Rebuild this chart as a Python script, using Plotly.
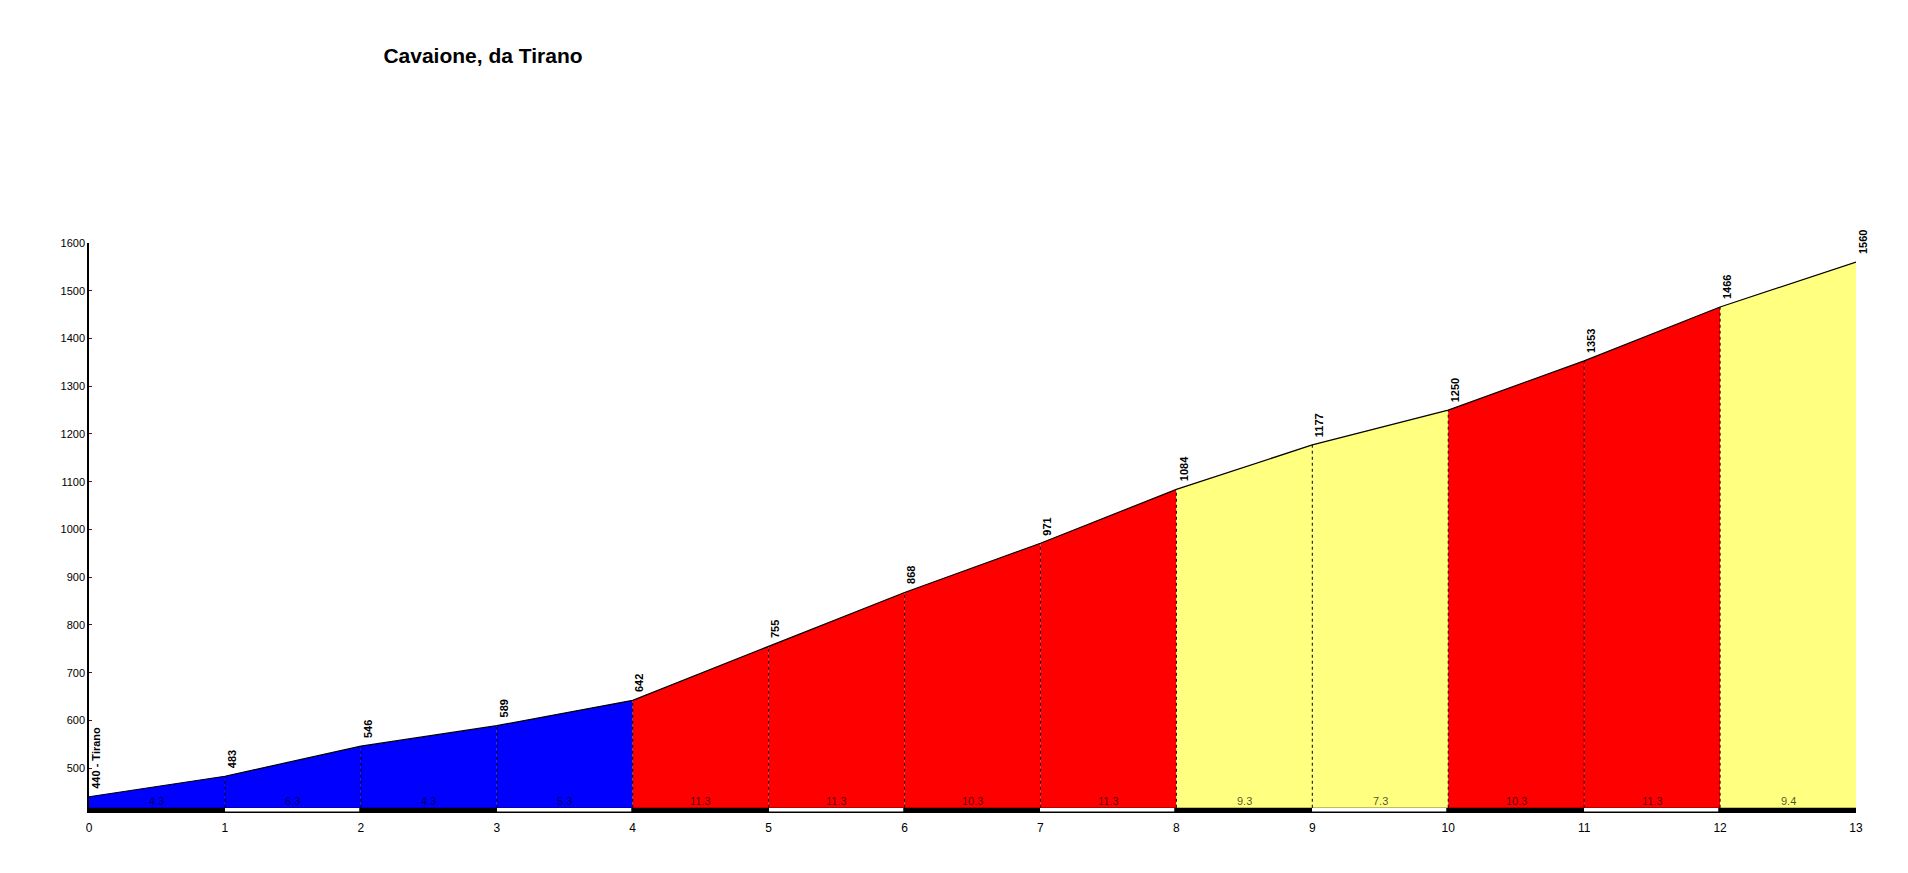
import plotly.graph_objects as go

title = "Cavaione, da Tirano"
km = [0, 1, 2, 3, 4, 5, 6, 7, 8, 9, 10, 11, 12, 13]
elevation = [440, 483, 546, 589, 642, 755, 868, 971, 1084, 1177, 1250, 1353, 1466, 1560]
start_name = "Tirano"
gradients = ["4.3", "6.3", "4.3", "5.3", "11.3", "11.3", "10.3", "11.3", "9.3", "7.3", "10.3", "11.3", "9.4"]
segment_colors = ["#0000FF", "#0000FF", "#0000FF", "#0000FF",
                  "#FF0000", "#FF0000", "#FF0000", "#FF0000",
                  "#FFFF80", "#FFFF80", "#FF0000", "#FF0000", "#FFFF80"]
y_ticks = [500, 600, 700, 800, 900, 1000, 1100, 1200, 1300, 1400, 1500, 1600]

Y_MIN = 406
BAR_H = 11
FONT = "Liberation Sans, Arial, sans-serif"
BASE = Y_MIN + BAR_H

fig = go.Figure()

# bottom km bar
mids = [(km[i] + km[i + 1]) / 2 for i in range(len(km) - 1)]
fig.add_trace(go.Bar(
    x=mids, y=[BAR_H] * len(mids), base=[Y_MIN] * len(mids), width=1,
    marker=dict(color=["black" if i % 2 == 0 else "white" for i in range(len(mids))],
                line=dict(color="black", width=1.5)),
    hoverinfo="skip", showlegend=False))

# coloured segments
for i in range(len(km) - 1):
    fig.add_trace(go.Scatter(
        x=[km[i], km[i + 1], km[i + 1], km[i], km[i]],
        y=[elevation[i], elevation[i + 1], BASE, BASE, elevation[i]],
        fill="toself", fillcolor=segment_colors[i], mode="none",
        hoverinfo="skip", showlegend=False))

# dotted verticals
for i in range(1, len(km) - 1):
    fig.add_trace(go.Scatter(
        x=[km[i], km[i]], y=[BASE, elevation[i]], mode="lines",
        line=dict(color="black", width=1, dash="dot"),
        hoverinfo="skip", showlegend=False))

# profile line
fig.add_trace(go.Scatter(x=km, y=elevation, mode="lines",
                         line=dict(color="black", width=1.2),
                         hoverinfo="skip", showlegend=False))

# gradient labels
for m, g in zip(mids, gradients):
    fig.add_annotation(x=m, y=BASE, text=g, showarrow=False,
                       yanchor="bottom", yshift=-1,
                       font=dict(family=FONT, size=11, color="rgba(0,0,0,0.7)"))

# elevation labels
for i, (k, e) in enumerate(zip(km, elevation)):
    txt = f"<b>{e}</b>" if i > 0 else f"<b>{e} - {start_name}</b>"
    fig.add_annotation(x=k, y=e, text=txt, showarrow=False, textangle=-90,
                       xanchor="center", yanchor="bottom", xshift=7, yshift=6,
                       font=dict(family=FONT, size=11, color="black"))

fig.update_layout(
    width=1908, height=873,
    margin=dict(l=81, r=60, t=235, b=68),
    paper_bgcolor="white", plot_bgcolor="white",
    bargap=0,
    title=dict(text=f"<b>{title}</b>", x=475 / 1908, xanchor="center",
               y=1 - 48 / 873, yanchor="middle", xref="container", yref="container",
               font=dict(family=FONT, size=21, color="black")),
    xaxis=dict(range=[0, 13], tickvals=km, ticktext=[str(k) for k in km],
               showgrid=False, zeroline=False, showline=False,
               ticks="outside", ticklen=4, tickcolor="rgba(0,0,0,0)",
               tickfont=dict(family=FONT, size=12, color="black")),
    yaxis=dict(range=[Y_MIN, 1600], tickvals=y_ticks, showgrid=False, zeroline=False,
               showline=True, linecolor="black", linewidth=1.5,
               ticks="inside", ticklen=3, tickcolor="#800000",
               tickfont=dict(family=FONT, size=11, color="black")),
)

fig.write_html("out.html")
